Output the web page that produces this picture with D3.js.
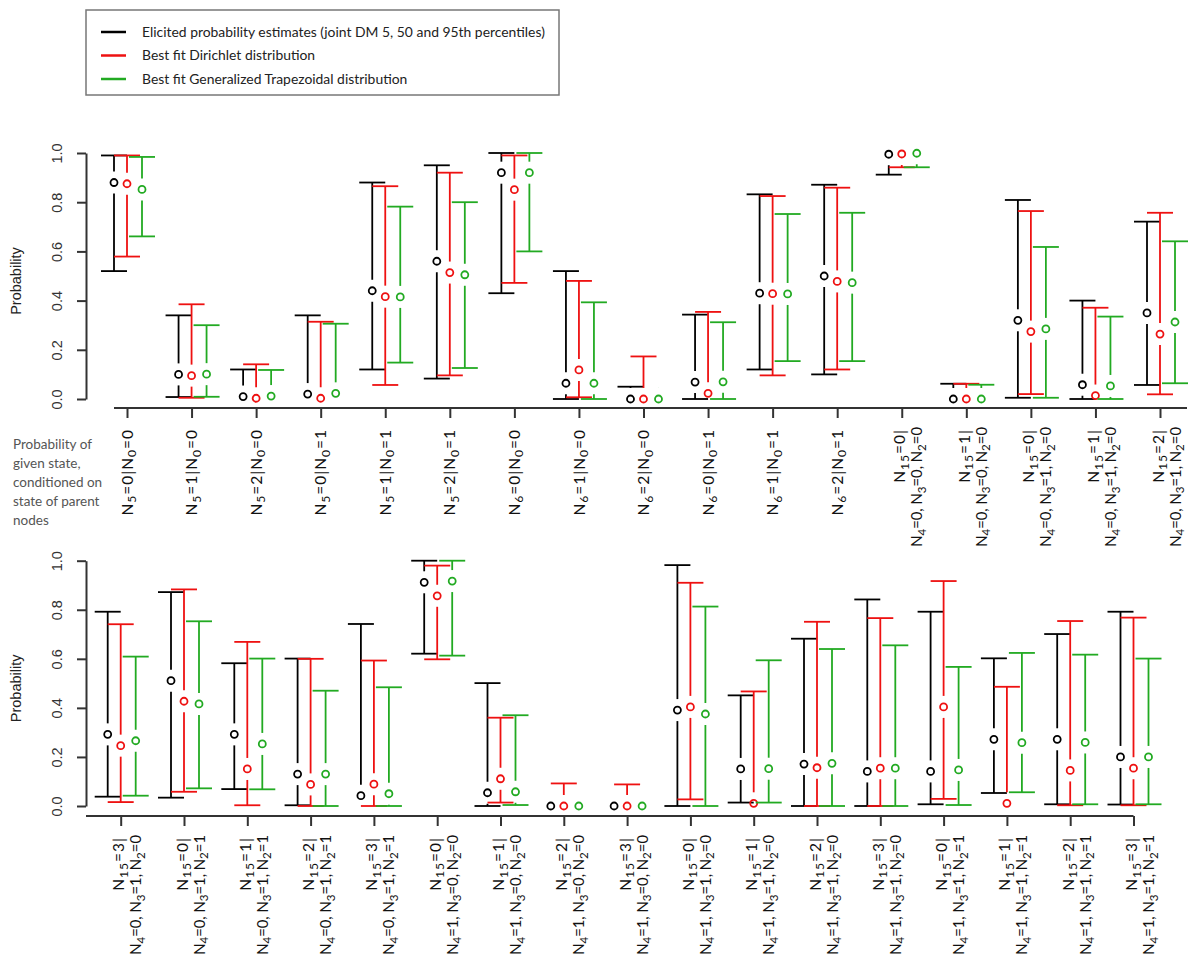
<!DOCTYPE html>
<html><head><meta charset="utf-8">
<script src="https://cdn.jsdelivr.net/npm/d3@7"></script>
<style>body{margin:0;background:#fff}</style>
</head><body><svg id="c" width="1200" height="968"></svg>
<script>
// ---------- DATA ----------
const topCategories = [
  ["N_5=0|N_0=0"],["N_5=1|N_0=0"],["N_5=2|N_0=0"],["N_5=0|N_0=1"],["N_5=1|N_0=1"],["N_5=2|N_0=1"],
  ["N_6=0|N_0=0"],["N_6=1|N_0=0"],["N_6=2|N_0=0"],["N_6=0|N_0=1"],["N_6=1|N_0=1"],["N_6=2|N_0=1"],
  ["N_15=0|","N_4=0, N_3=0, N_2=0"],["N_15=1|","N_4=0, N_3=0, N_2=0"],
  ["N_15=0|","N_4=0, N_3=1, N_2=0"],["N_15=1|","N_4=0, N_3=1, N_2=0"],["N_15=2|","N_4=0, N_3=1, N_2=0"]
];
const bottomCategories = [
  ["N_15=3|","N_4=0, N_3=1, N_2=0"],["N_15=0|","N_4=0, N_3=1, N_2=1"],["N_15=1|","N_4=0, N_3=1, N_2=1"],
  ["N_15=2|","N_4=0, N_3=1, N_2=1"],["N_15=3|","N_4=0, N_3=1, N_2=1"],["N_15=0|","N_4=1, N_3=0, N_2=0"],
  ["N_15=1|","N_4=1, N_3=0, N_2=0"],["N_15=2|","N_4=1, N_3=0, N_2=0"],["N_15=3|","N_4=1, N_3=0, N_2=0"],
  ["N_15=0|","N_4=1, N_3=1, N_2=0"],["N_15=1|","N_4=1, N_3=1, N_2=0"],["N_15=2|","N_4=1, N_3=1, N_2=0"],
  ["N_15=3|","N_4=1, N_3=1, N_2=0"],["N_15=0|","N_4=1, N_3=1, N_2=1"],["N_15=1|","N_4=1, N_3=1, N_2=1"],
  ["N_15=2|","N_4=1, N_3=1, N_2=1"],["N_15=3|","N_4=1, N_3=1, N_2=1"]
];
const yTicks = [0, 0.2, 0.4, 0.6, 0.8, 1.0];
const seriesNames = ["Elicited probability estimates (joint DM 5, 50 and 95th percentiles)",
                     "Best fit Dirichlet distribution",
                     "Best fit Generalized Trapezoidal distribution"];

// top panel
const topBlackMid = [0.88,0.10,0.01,0.02,0.44,0.56,0.92,0.064,0.0,0.069,0.43,0.50,0.995,0.0,0.32,0.058,0.35];
const topBlackLo  = [0.52,0.008,0.0,0.0,0.12,0.083,0.43,0.0,0.0,0.0,0.12,0.10,0.912,0.0,0.005,0.0,0.057];
const topBlackHi  = [0.99,0.34,0.12,0.34,0.88,0.95,1.0,0.52,0.05,0.343,0.832,0.871,1.0,0.062,0.809,0.40,0.721];
const topRedMid   = [0.875,0.095,0.003,0.003,0.416,0.514,0.851,0.118,0.0,0.023,0.428,0.478,0.996,0.0,0.274,0.014,0.264];
const topRedLo    = [0.579,0.005,0.0,0.0,0.057,0.096,0.472,0.007,0.0,0.0,0.096,0.12,0.942,0.0,0.02,0.0,0.019];
const topRedHi    = [0.99,0.385,0.141,0.314,0.865,0.92,0.99,0.48,0.173,0.354,0.825,0.859,1.0,0.062,0.764,0.371,0.757];
const topGreenMid = [0.852,0.101,0.012,0.023,0.415,0.505,0.92,0.064,0.0,0.07,0.427,0.473,0.999,0.0,0.285,0.053,0.313];
const topGreenLo  = [0.661,0.009,0.0,0.0,0.148,0.126,0.60,0.0,0.0,0.0,0.154,0.154,0.942,0.0,0.005,0.0,0.064];
const topGreenHi  = [0.984,0.30,0.118,0.306,0.782,0.80,1.0,0.393,0.045,0.312,0.752,0.757,1.0,0.058,0.618,0.335,0.641];

// bottom panel
const botBlackMid = [0.292,0.511,0.292,0.130,0.042,0.912,0.054,0.0,0.0,0.391,0.151,0.171,0.141,0.141,0.272,0.272,0.20];
const botBlackLo  = [0.038,0.034,0.069,0.003,0.0,0.621,0.0,0.0,0.0,0.0,0.014,0.0,0.0,0.007,0.053,0.007,0.006];
const botBlackHi  = [0.792,0.872,0.582,0.601,0.742,1.0,0.501,0.0,0.0,0.982,0.451,0.682,0.842,0.792,0.602,0.701,0.792];
const botRedMid   = [0.246,0.427,0.151,0.088,0.089,0.857,0.111,0.0,0.0,0.404,0.011,0.156,0.154,0.404,0.011,0.145,0.154];
const botRedLo    = [0.016,0.058,0.003,0.0,0.0,0.598,0.014,0.0,0.0,0.027,0.0,0.0,0.0,0.029,0.0,0.003,0.003];
const botRedHi    = [0.741,0.883,0.669,0.60,0.593,0.98,0.36,0.092,0.088,0.91,0.467,0.751,0.766,0.917,0.486,0.754,0.768];
const botGreenMid = [0.266,0.416,0.253,0.130,0.050,0.917,0.058,0.0,0.0,0.375,0.152,0.174,0.154,0.147,0.258,0.259,0.20];
const botGreenLo  = [0.042,0.072,0.068,0.0,0.0,0.613,0.004,0.0,0.0,0.0,0.014,0.0,0.0,0.004,0.056,0.007,0.007];
const botGreenHi  = [0.609,0.753,0.601,0.470,0.484,1.0,0.370,0.0,0.0,0.813,0.594,0.64,0.655,0.567,0.624,0.617,0.601];

// ---------- STYLE ----------
const colors = ["#000000", "#ee1111", "#22aa22"];
const offsets = [-13, 0, 15];
const GAP = 11, CAP = 13, R = 3.5, LW = 1.8;
const LABEL_FONT = "Lato, 'Open Sans', sans-serif";
const AXIS_FONT = "'Liberation Sans', Arial, sans-serif";

const svg = d3.select("#c");

// legend
const lg = svg.append("g");
lg.append("rect").attr("x", 86).attr("y", 10).attr("width", 473).attr("height", 85)
  .attr("fill", "none").attr("stroke", "#777").attr("stroke-width", 1.5);
seriesNames.forEach((s, i) => {
  const yy = 32 + i * 23.5;
  lg.append("line").attr("x1", 101).attr("x2", 126).attr("y1", yy).attr("y2", yy)
    .attr("stroke", colors[i]).attr("stroke-width", 2.5);
  lg.append("text").attr("x", 142).attr("y", yy + 4.5).text(s)
    .attr("font-family", LABEL_FONT).attr("font-size", 13.9).attr("fill", "#222");
});

// left annotation
const ann = ["Probability of", "given state,", "conditioned on", "state of parent", "nodes"];
svg.append("g").selectAll("text").data(ann).join("text")
  .attr("x", 13).attr("y", (d, i) => 449 + i * 19).text(d => d)
  .attr("font-family", LABEL_FONT).attr("font-size", 13.5).attr("fill", "#555");

function richText(sel, str, fs) {
  const parts = str.split(/(_\d+)/);
  let shifted = false;
  parts.forEach(p => {
    if (!p) return;
    if (p[0] === "_") {
      sel.append("tspan").attr("font-size", fs * 0.78).attr("dy", shifted ? 0 : 3.5).text(p.slice(1));
      shifted = true;
    } else {
      sel.append("tspan").attr("dy", shifted ? -3.5 : 0).text(p);
      shifted = false;
    }
  });
}

function panel(cfg) {
  const n = cfg.cats.length;
  const x = d3.scalePoint().domain(d3.range(n)).range(cfg.xr);
  const y = d3.scaleLinear().domain([0, 1]).range(cfg.yr);
  const g = svg.append("g");

  // y axis
  const ya = g.append("g").attr("transform", `translate(${cfg.yAxisX},0)`)
    .call(d3.axisLeft(y).tickValues(yTicks).tickFormat(d3.format(".1f")).tickSize(9).tickSizeOuter(0));
  ya.select(".domain").attr("stroke", "#333").attr("stroke-width", 2);
  ya.selectAll(".tick line").attr("stroke", "#333").attr("stroke-width", 2);
  ya.selectAll(".tick text").attr("transform", "rotate(-90)").attr("x", 0).attr("y", -24).attr("dy", 0)
    .attr("text-anchor", "middle").attr("font-family", AXIS_FONT).attr("font-size", 14.5).attr("fill", "#333");

  // y label
  g.append("text").attr("transform", `translate(21,${(cfg.yr[0] + cfg.yr[1]) / 2 + 5}) rotate(-90)`)
    .attr("text-anchor", "middle").attr("font-family", AXIS_FONT).attr("font-size", 14.5).attr("fill", "#222")
    .text("Probability");

  // x axis
  const xa = g.append("g").attr("transform", `translate(0,${cfg.xAxisY})`)
    .call(d3.axisBottom(x).tickSize(10).tickFormat(""));
  xa.select(".domain").remove();
  xa.selectAll(".tick line").attr("stroke", "#333").attr("stroke-width", 2);
  xa.append("line").attr("x1", cfg.axisStart).attr("x2", x(n - 1) + cfg.axisEndExtra)
    .attr("y1", 0).attr("y2", 0).attr("stroke", "#333").attr("stroke-width", 2.2);

  // category labels
  const fs = 15.5, fs2 = 14.8;
  cfg.cats.forEach((lab, i) => {
    const lgp = g.append("g").attr("transform", `translate(${x(i)},${cfg.xAxisY + 21}) rotate(-90)`);
    if (lab.length === 1) {
      const t = lgp.append("text").attr("text-anchor", "end").attr("y", 0.36 * fs)
        .attr("font-family", LABEL_FONT).attr("font-size", fs).attr("fill", "#111")
        .attr("letter-spacing", 1);
      richText(t, lab[0], fs);
    } else {
      const t1 = lgp.append("text").attr("text-anchor", "end").attr("y", 0.36 * fs - 2)
        .attr("font-family", LABEL_FONT).attr("font-size", fs).attr("fill", "#111")
        .attr("letter-spacing", 1);
      richText(t1, lab[0], fs);
      const t2 = lgp.append("text").attr("text-anchor", "end").attr("x", 2).attr("y", 0.36 * fs + 15)
        .attr("font-family", LABEL_FONT).attr("font-size", fs2).attr("fill", "#111");
      richText(t2, lab[1], fs2);
    }
  });

  // error bars
  cfg.series.forEach((s, k) => {
    const sg = g.append("g").attr("stroke", colors[k]).attr("stroke-width", LW).attr("fill", "none");
    d3.range(n).forEach(i => {
      const cx = x(i) + offsets[k];
      const ym = y(s.mid[i]), yh = y(s.hi[i]), yl = y(s.lo[i]);
      if (yh < ym - GAP) {
        sg.append("line").attr("x1", cx).attr("x2", cx).attr("y1", ym - GAP).attr("y2", yh);
        if (ym - GAP - yh >= 1) sg.append("line").attr("x1", cx - CAP).attr("x2", cx + CAP).attr("y1", yh).attr("y2", yh);
      }
      if (yl > ym + GAP) {
        sg.append("line").attr("x1", cx).attr("x2", cx).attr("y1", ym + GAP).attr("y2", yl);
        if (yl - ym - GAP >= 1) sg.append("line").attr("x1", cx - CAP).attr("x2", cx + CAP).attr("y1", yl).attr("y2", yl);
      }
      sg.append("circle").attr("cx", cx).attr("cy", ym).attr("r", R);
    });
  });
}

panel({
  cats: topCategories, xr: [127, 1160], yr: [399, 153], yAxisX: 86, xAxisY: 408,
  axisStart: 114, axisEndExtra: 27,
  series: [
    {mid: topBlackMid, lo: topBlackLo, hi: topBlackHi},
    {mid: topRedMid, lo: topRedLo, hi: topRedHi},
    {mid: topGreenMid, lo: topGreenLo, hi: topGreenHi}
  ]
});
panel({
  cats: bottomCategories, xr: [120.7, 1133.5], yr: [806, 560.7], yAxisX: 86, xAxisY: 816,
  axisStart: 86, axisEndExtra: 0,
  series: [
    {mid: botBlackMid, lo: botBlackLo, hi: botBlackHi},
    {mid: botRedMid, lo: botRedLo, hi: botRedHi},
    {mid: botGreenMid, lo: botGreenLo, hi: botGreenHi}
  ]
});
</script>
</body></html>
